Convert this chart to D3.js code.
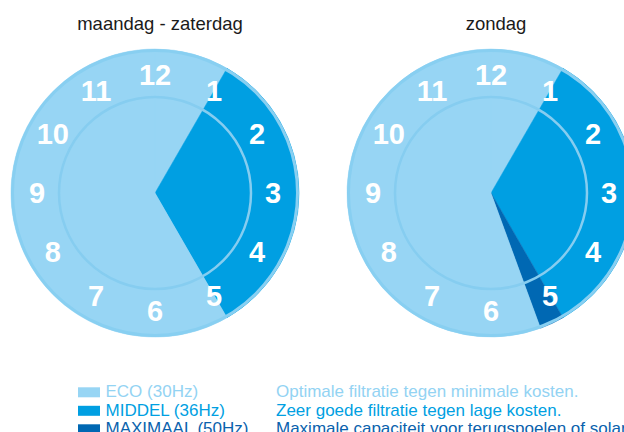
<!DOCTYPE html>
<html>
<head>
<meta charset="utf-8">
<script src="https://cdn.jsdelivr.net/npm/d3@7/dist/d3.min.js"></script>
<style>
  html, body { margin: 0; padding: 0; background: #fff; }
  svg { display: block; font-family: "Liberation Sans", Arial, sans-serif; }
</style>
</head>
<body>
<svg id="chart" width="624" height="432"></svg>
<script>
// Pump modes, their legend text and colours
const modes = ["ECO (30Hz)", "MIDDEL (36Hz)", "MAXIMAAL (50Hz)"];
const modeDescriptions = [
  "Optimale filtratie tegen minimale kosten.",
  "Zeer goede filtratie tegen lage kosten.",
  "Maximale capaciteit voor terugspoelen of solar."
];
const modeColors = ["#97d5f4", "#009fe2", "#0068b3"];
const modeTextColors = ["#93d3f3", "#009fe2", "#0a62ad"];

// Day schedules: consecutive blocks on the 12-hour dial (hours) and the mode index of each block
const dayTitles = ["maandag - zaterdag", "zondag"];
const weekdayHours = [1, 4, 7];
const weekdayModes = [0, 1, 0];
const sundayHours = [1, 4, 0.33, 6.67];
const sundayModes = [0, 1, 2, 0];

// Dial numbers
const hourLabels = ["12", "1", "2", "3", "4", "5", "6", "7", "8", "9", "10", "11"];

const schedules = [
  { title: dayTitles[0], hours: weekdayHours, modes: weekdayModes },
  { title: dayTitles[1], hours: sundayHours, modes: sundayModes }
];

const svg = d3.select("#chart");

const outerR = 144;
const innerR = 96;
const labelR = 118;
const centers = [[155, 193], [491, 193]];

// angle scale: hours on a 12-hour dial -> radians, clockwise from 12
const angle = d3.scaleLinear().domain([0, 12]).range([0, 2 * Math.PI]);

schedules.forEach((s, i) => {
  const [cx, cy] = centers[i];
  const g = svg.append("g").attr("transform", `translate(${cx},${cy})`);

  const blocks = [];
  let t = 0;
  s.hours.forEach((h, k) => {
    blocks.push({ start: t, end: t + h, mode: s.modes[k] });
    t += h;
  });

  const arc = d3.arc()
    .innerRadius(0)
    .outerRadius(outerR)
    .startAngle(d => angle(d.start))
    .endAngle(d => angle(d.end));

  g.selectAll("path.block")
    .data(blocks)
    .join("path")
    .attr("class", "block")
    .attr("d", arc)
    .attr("fill", d => modeColors[d.mode])
    .attr("stroke", d => modeColors[d.mode])
    .attr("stroke-width", 0.5);

  // inner ring line and outer rim
  g.append("circle")
    .attr("r", innerR)
    .attr("fill", "none")
    .attr("stroke", "#86cdf0")
    .attr("stroke-width", 2.5);

  g.append("circle")
    .attr("r", outerR - 1.5)
    .attr("fill", "none")
    .attr("stroke", "#88cff1")
    .attr("stroke-width", 3);

  // hour numbers
  g.selectAll("text.hour")
    .data(hourLabels)
    .join("text")
    .attr("class", "hour")
    .attr("x", (d, k) => labelR * Math.sin(angle(k)))
    .attr("y", (d, k) => -labelR * Math.cos(angle(k)))
    .attr("dy", "0.36em")
    .attr("text-anchor", "middle")
    .attr("fill", "#fff")
    .attr("font-weight", "bold")
    .attr("font-size", 29)
    .text(d => d);

  // title
  svg.append("text")
    .attr("x", cx + 5)
    .attr("y", 30)
    .attr("text-anchor", "middle")
    .attr("fill", "#1a1a1a")
    .attr("font-size", 18.5)
    .text(s.title);
});

// legend
const legend = svg.append("g");
const rowY = d3.scaleLinear().domain([0, 1]).range([397.3, 415.8]);

legend.selectAll("rect")
  .data(modes)
  .join("rect")
  .attr("x", 78)
  .attr("y", (d, i) => rowY(i) - 10)
  .attr("width", 22)
  .attr("height", 10)
  .attr("fill", (d, i) => modeColors[i]);

legend.selectAll("text.mode")
  .data(modes)
  .join("text")
  .attr("class", "mode")
  .attr("x", 105.5)
  .attr("y", (d, i) => rowY(i))
  .attr("font-size", 17)
  .attr("fill", (d, i) => modeTextColors[i])
  .text(d => d);

legend.selectAll("text.desc")
  .data(modeDescriptions)
  .join("text")
  .attr("class", "desc")
  .attr("x", 276)
  .attr("y", (d, i) => rowY(i))
  .attr("font-size", 17)
  .attr("fill", (d, i) => modeTextColors[i])
  .text(d => d);
</script>
</body>
</html>
